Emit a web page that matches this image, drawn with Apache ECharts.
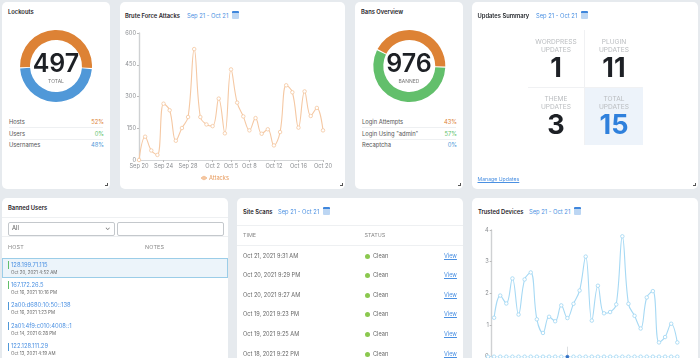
<!DOCTYPE html>
<html>
<head>
<meta charset="utf-8">
<script src="https://cdn.jsdelivr.net/npm/echarts@6/dist/echarts.min.js"></script>
<style>
html,body{margin:0;padding:0;width:700px;height:358px;overflow:hidden;background:#e6eaee;font-family:Inter,"Noto Sans",sans-serif;color:#333}
.card{position:absolute;background:#fff;border-radius:5px;overflow:hidden;filter:blur(0.3px)}
.t{position:absolute;white-space:nowrap;line-height:1}
.title{font-size:5.8px;font-weight:600;color:#1f2328}
.date{font-size:5.8px;color:#4a90e2}
.cal{position:absolute;width:7px;height:6px;background:#bcd6f3;border-top:2px solid #3f86dc;border-radius:1px}
.grip{position:absolute;width:2px;height:2px;border-right:1px solid #555;border-bottom:1px solid #555}
.line{position:absolute;height:1px;background:#eef0f2}
.chart{position:absolute;left:0;top:0}
.num{font-weight:700;color:#1d2025;text-align:center}
.lab{color:#b9bcbf;text-align:center;font-size:6.6px;line-height:8px;white-space:normal}
a{color:#4a90e2;text-decoration:underline}
</style>
</head>
<body>
<div class="card" id="c1" style="left:2px;top:2px;width:108px;height:187px"></div>
<div class="card" id="c2" style="left:120px;top:2px;width:225px;height:187px"></div>
<div class="card" id="c3" style="left:355px;top:2px;width:108px;height:187px"></div>
<div class="card" id="c4" style="left:472px;top:2px;width:226px;height:187px"></div>
<div class="card" id="c5" style="left:2px;top:198px;width:226px;height:170px"></div>
<div class="card" id="c6" style="left:237px;top:198px;width:226px;height:170px"></div>
<div class="card" id="c7" style="left:472px;top:198px;width:226px;height:170px"></div>
<script>
var dateRange = 'Sep 21 - Oct 21';

var lockoutLabels = ['Hosts', 'Users', 'Usernames'];
var lockoutValues = [52, 0, 48];
var lockoutTotal = '497';
var banLabels = ['Login Attempts', 'Login Using "admin"', 'Recaptcha'];
var banValues = [43, 57, 0];
var banTotal = '976';
var orange = '#dd8235', green = '#62bf6b', blue = '#5098d8';

var attackDays = ['Sep 20','Sep 21','Sep 22','Sep 23','Sep 24','Sep 25','Sep 26','Sep 27','Sep 28','Sep 29','Sep 30','Oct 1','Oct 2','Oct 3','Oct 4','Oct 5','Oct 6','Oct 7','Oct 8','Oct 9','Oct 10','Oct 11','Oct 12','Oct 13','Oct 14','Oct 15','Oct 16','Oct 17','Oct 18','Oct 19','Oct 20'];
var attackLabelDays = ['Sep 20','Sep 24','Sep 28','Oct 2','Oct 5','Oct 8','Oct 12','Oct 16','Oct 20'];
var attacks = [0,110,45,24,266,235,91,151,203,524,203,168,160,290,126,428,271,206,140,198,124,145,69,132,353,320,153,324,208,246,140];

var deviceDays = ['Sep 19'].concat(attackDays);
var devices = [null,1.23,1.93,1.68,2.47,1.33,2.44,2.66,1.18,0.75,1.26,1.12,1.62,1.22,1.67,2.09,3.16,1.14,2.24,1.37,1.41,1.65,3.80,1.67,1.29,0.89,1.87,2.07,0.45,0.62,1.04,0.45];
var deviceZero = [0,0,0,0,0,0,0,0,0,0,0,0,0,0,0,0,0,0,0,0,0,0,0,0,0,0,0,0,0,0,0,0];

var updateCells = [['WORDPRESS','UPDATES','1'],['PLUGIN','UPDATES','11'],['THEME','UPDATES','3'],['TOTAL','UPDATES','15']];

var bannedHosts = ['128.199.71.115','167.172.26.5','2a00:d680:10:50::138','2a01:4f9:c010:4008::1','122.128.111.29'];
var bannedDates = ['Oct 20, 2021 4:52 AM','Oct 16, 2021 10:16 PM','Oct 16, 2021 1:23 PM','Oct 14, 2021 6:28 PM','Oct 13, 2021 4:19 AM'];
var bannedBars = ['#62bf6b','#62bf6b','#5098d8','#5098d8','#5098d8'];

var scanTimes = ['Oct 21, 2021 9:31 AM','Oct 20, 2021 9:29 PM','Oct 20, 2021 9:27 AM','Oct 19, 2021 9:23 PM','Oct 19, 2021 9:25 AM','Oct 18, 2021 9:22 PM'];

// small html helpers, x/y are px inside the card
function text(card, str, x, y, cls, css){
	var d = document.createElement('div');
	d.className = 't ' + (cls || '');
	d.style.left = x + 'px';
	d.style.top = y + 'px';
	if(css) d.style.cssText += css;
	d.innerHTML = str;
	document.getElementById(card).appendChild(d);
	return d;
}
function box(card, cls, css){
	var d = document.createElement('div');
	d.className = cls;
	d.style.cssText = css;
	document.getElementById(card).appendChild(d);
	return d;
}
function header(card, title, x, dateX, calX, y){
	text(card, title, x, y, 'title');
	text(card, dateRange, dateX, y, 'date');
	box(card, 'cal', 'left:' + calX + 'px;top:' + (y - 2) + 'px');
}
function esc(s){ return s.replace(/"/g, '&quot;'); }

var $donut = function(card, labels, values, colors, startAngle, cx, total, sub){
	var dom = box(card, 'chart', 'width:108px;height:110px');
	var myChart = echarts.init(dom);
	var data = [];
	for(var i = 0; i < labels.length; i++){
		if(values[i] > 0) data.push({name: labels[i], value: values[i], itemStyle: {color: colors[i]}});
	}
	myChart.setOption({
		animation: false,
		series: [{
			type: 'pie',
			center: [cx, 64],
			radius: [26, 36],
			startAngle: startAngle,
			padAngle: 2,
			silent: true,
			label: {show: false},
			labelLine: {show: false},
			data: data
		}],
		graphic: [
			{type: 'text', left: 'center', top: 50, style: {text: total, fontFamily: 'Inter', fontWeight: 600, fontSize: 25, fill: '#1d2025'}},
			{type: 'text', left: 'center', top: 76.5, style: {text: sub, fontFamily: 'Inter', fontSize: 5, fill: '#777'}}
		]
	});
	for(var j = 0; j < labels.length; j++){
		var y = 117 + j * 11.5;
		text(card, esc(labels[j]), 7, y, '', 'font-size:5.8px;color:#555');
		text(card, values[j] + '%', 0, y, '', 'font-size:5.8px;right:6px;left:auto;color:' + colors[j]);
		if(j < 2) box(card, 'line', 'left:7px;width:94px;top:' + (y + 8) + 'px');
	}
	box(card, 'grip', 'left:103px;top:181px');
};

var $lineAxis = function(){
	return {color: '#8a8d91', fontSize: 5.7, fontFamily: 'Inter', margin: 3};
};

var $attacks = function(){
	var dom = box('c2', 'chart', 'width:225px;height:187px');
	var myChart = echarts.init(dom);
	myChart.setOption({
		animation: false,
		grid: {left: 19, right: 22, top: 31, bottom: 29},
		legend: {
			left: 80, top: 173, padding: 0, itemWidth: 6, itemHeight: 3, itemGap: 2,
			textStyle: {color: '#e79a5c', fontSize: 5.7, fontFamily: 'Inter', padding: [0, 0, 0, -3]}
		},
		xAxis: {
			type: 'category', boundaryGap: false, data: attackDays,
			axisLine: {lineStyle: {color: '#d4d6d8', width: 1}},
			axisTick: {length: 2, lineStyle: {color: '#bbb'}, interval: function(i, v){ return attackLabelDays.indexOf(v) >= 0; }},
			axisLabel: Object.assign($lineAxis(), {interval: function(i, v){ return attackLabelDays.indexOf(v) >= 0; }})
		},
		yAxis: {
			type: 'value', min: 0, max: 600, interval: 150,
			axisLine: {show: true, lineStyle: {color: '#cfd1d3', width: 1.4}},
			axisTick: {show: true, length: 2, lineStyle: {color: '#bbb'}},
			axisLabel: $lineAxis(),
			splitLine: {show: false}
		},
		series: [{
			name: 'Attacks', type: 'line', smooth: 0.4, data: attacks,
			showAllSymbol: true, symbol: 'circle', symbolSize: 3.5,
			lineStyle: {color: '#f5c8a3', width: 1.1},
			itemStyle: {color: '#fff', borderColor: '#f4c6a0', borderWidth: 0.8}
		}]
	});
};

var $devices = function(){
	var dom = box('c7', 'chart', 'width:226px;height:190px');
	var myChart = echarts.init(dom);
	var zeroData = deviceZero.map(function(v, i){
		return i == 13 ? {value: v, symbolSize: 3, itemStyle: {color: '#2f6fc4', borderColor: '#2f6fc4'}} : v;
	});
	myChart.setOption({
		animation: false,
		grid: {left: 16, width: 189.3, top: 32, height: 126.7},
		xAxis: {
			type: 'category', boundaryGap: false, data: deviceDays,
			axisLine: {show: false},
			axisTick: {show: true, inside: true, length: 10, lineStyle: {color: '#dcdfe2'}, interval: function(i){ return i == 13; }},
			axisLabel: {show: false}
		},
		yAxis: {
			type: 'value', min: 0, max: 4, interval: 1, offset: -3.7,
			axisLine: {show: true, lineStyle: {color: '#cfd1d3', width: 1.4}},
			axisTick: {show: true, length: 2, lineStyle: {color: '#bbb'}},
			axisLabel: $lineAxis(),
			splitLine: {show: false}
		},
		series: [{
			name: 'Trusted Devices', type: 'line', smooth: 0.4, data: devices,
			showAllSymbol: true, symbol: 'circle', symbolSize: 3.5,
			lineStyle: {color: '#a6d9f4', width: 1.1},
			itemStyle: {color: '#fff', borderColor: '#9ed5f2', borderWidth: 0.8}
		},{
			name: 'Zero', type: 'line', data: zeroData, clip: false,
			showAllSymbol: true, symbol: 'circle', symbolSize: 3.5,
			lineStyle: {color: '#cfe8f7', width: 0.8},
			itemStyle: {color: '#fff', borderColor: '#9ed5f2', borderWidth: 0.8}
		}]
	});
};

// top row
text('c1', 'Lockouts', 6, 7, 'title');
$donut('c1', lockoutLabels, lockoutValues, [orange, green, blue], 183, 54, lockoutTotal, 'TOTAL');
header('c2', 'Brute Force Attacks', 5, 67, 112, 11);
$attacks();
text('c3', 'Bans Overview', 6, 7, 'title');
$donut('c3', banLabels, banValues, [orange, green, blue], 153, 54.3, banTotal, 'BANNED');
header('c4', 'Updates Summary', 5.5, 64, 109, 11);
box('c2', 'grip', 'left:220px;top:181px');

// updates grid
box('c4', '', 'position:absolute;left:113px;top:85px;width:58px;height:58px;background:#edf3fa');
box('c4', '', 'position:absolute;left:112px;top:28px;width:1px;height:115px;background:#f0f1f3');
box('c4', '', 'position:absolute;left:56px;top:85px;width:114px;height:1px;background:#f0f1f3');
updateCells.forEach(function(c, i){
	var x = i % 2 ? 113 : 55, y = i > 1 ? 86 : 29;
	text('c4', c[0] + '<br>' + c[1], x, y + 7, 'lab', 'width:58px');
	text('c4', c[2], x, y + 23, 'num', 'width:58px;font-size:27px;' + (i == 3 ? 'color:#2f80dc' : ''));
});
text('c4', '<a>Manage Updates</a>', 5.5, 175, '', 'font-size:5.2px');
box('c4', 'grip', 'left:221px;top:181px');

// banned users
text('c5', 'Banned Users', 6, 7, 'title');
box('c5', 'line', 'left:0;width:226px;top:19px');
box('c5', '', 'position:absolute;left:5.5px;top:24px;width:105px;height:12px;border:0.8px solid #c4c8cc;border-radius:2px');
box('c5', '', 'position:absolute;left:115px;top:24px;width:105px;height:12px;border:0.8px solid #c4c8cc;border-radius:2px');
text('c5', 'All', 10, 27, '', 'font-size:5.8px;color:#555');
text('c5', '&#8964;', 103, 26, '', 'font-size:7px;color:#666');
box('c5', 'line', 'left:0;width:226px;top:38px');
text('c5', 'HOST', 6, 47, '', 'font-size:5.4px;color:#888;letter-spacing:.2px');
text('c5', 'NOTES', 143, 47, '', 'font-size:5.4px;color:#888;letter-spacing:.2px');
box('c5', '', 'position:absolute;left:0;top:60px;width:226px;height:20px;box-sizing:border-box;background:#ecf4fa;border:0.8px solid #9bcde8');
bannedHosts.forEach(function(h, i){
	var y = 63 + i * 20.4;
	box('c5', '', 'position:absolute;left:6px;width:1px;height:8px;top:' + y + 'px;background:' + bannedBars[i]);
	text('c5', h, 9, y + 0.5, '', 'font-size:5.8px;color:#4a90e2');
	text('c5', bannedDates[i], 9, y + 9.5, '', 'font-size:4.5px;color:#666');
});

// site scans
header('c6', 'Site Scans', 6, 41, 86, 11);
box('c6', 'line', 'left:0;width:226px;top:27px');
text('c6', 'TIME', 6, 35, '', 'font-size:5.4px;color:#888');
text('c6', 'STATUS', 127.5, 35, '', 'font-size:5.4px;color:#888');
box('c6', 'line', 'left:0;width:226px;top:47px');
scanTimes.forEach(function(s, i){
	var y = 55.5 + i * 19.6;
	text('c6', s, 6, y, '', 'font-size:5.6px;color:#666');
	box('c6', '', 'position:absolute;left:127.5px;width:5px;height:5px;border-radius:50%;background:#8bc84f;top:' + y + 'px');
	text('c6', 'Clean', 136, y, '', 'font-size:5.6px;color:#666');
	text('c6', '<a>View</a>', 207, y, '', 'font-size:5.6px');
});

// trusted devices
header('c7', 'Trusted Devices', 6, 57, 102, 11);
$devices();
</script>
</body>
</html>
